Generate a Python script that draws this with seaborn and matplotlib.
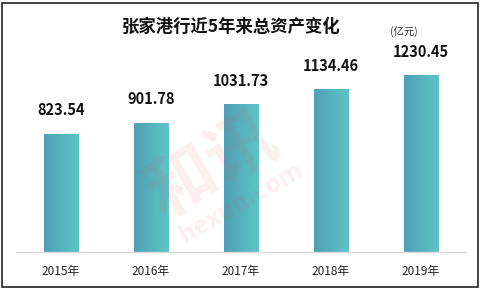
import numpy as np
import pandas as pd
import matplotlib
matplotlib.use("Agg")
import matplotlib.pyplot as plt
import seaborn as sns
from matplotlib.patches import Rectangle
from matplotlib.colors import LinearSegmentedColormap

years = ["2015年", "2016年", "2017年", "2018年", "2019年"]
values = [823.54, 901.78, 1031.73, 1134.46, 1230.45]
title = "张家港行近5年来总资产变化"
unit = "(亿元)"

sns.set_theme(style="white")
plt.rcParams['font.family'] = ['Noto Sans CJK SC', 'DejaVu Sans']

df = pd.DataFrame({"year": years, "value": values})

fig = plt.figure(figsize=(4.83, 2.89), dpi=100)
ax = fig.add_axes([16/483, 37/289, 450/483, 201/289])
sns.barplot(data=df, x="year", y="value", ax=ax, width=0.38, color="#56b4c0",
            saturation=1, edgecolor="none")
ax.set_ylim(0, 1400)
ax.set_xlim(-0.5, 4.5)

cmap = LinearSegmentedColormap.from_list("g", ["#4fa0b6", "#5ec4c6"])
grad = np.linspace(0, 1, 64).reshape(1, -1)
for p in ax.patches:
    x0, y0 = p.get_x(), p.get_y()
    w, h = p.get_width(), p.get_height()
    im = ax.imshow(grad, extent=[x0, x0 + w, y0, y0 + h], aspect="auto",
                   cmap=cmap, zorder=p.get_zorder() + 0.1)
    im.set_clip_path(p)
    ax.annotate(f"{h:.2f}", (x0 + w / 2, h), xytext=(0, 11), textcoords="offset points",
                ha="center", va="bottom", fontsize=10.5, fontweight="bold", color="#111111")
ax.set_xlim(-0.5, 4.5)
ax.set_ylim(0, 1400)

ax.set_xlabel("")
ax.set_ylabel("")
ax.set_yticks([])
for s in ["top", "right", "left"]:
    ax.spines[s].set_visible(False)
ax.spines["bottom"].set_color("#d9d9d9")
ax.spines["bottom"].set_linewidth(1)
ax.tick_params(axis="x", length=0, pad=9, labelsize=8.5, labelcolor="#222222")

fig.text(231/483, 1 - 27/289, title, ha="center", va="center", fontsize=12.5,
         fontweight="bold", color="#111111")
fig.text(404/483, 1 - 32/289, unit, ha="center", va="center", fontsize=7.5, color="#333333")

# watermark
fig.text(0.44, 0.42, "和讯", ha="center", va="center", fontsize=50, fontweight="bold",
         color="#e8484f", alpha=0.09, rotation=30)
fig.text(0.50, 0.30, "hexun.com", ha="center", va="center", fontsize=18, fontweight="bold",
         color="#e8484f", alpha=0.09, rotation=30)

fig.patches.append(Rectangle((2/483, 2/289), 476/483, 284/289, transform=fig.transFigure,
                             fill=False, edgecolor="#222222", linewidth=1.2))
fig.savefig("out.png", dpi=100)
